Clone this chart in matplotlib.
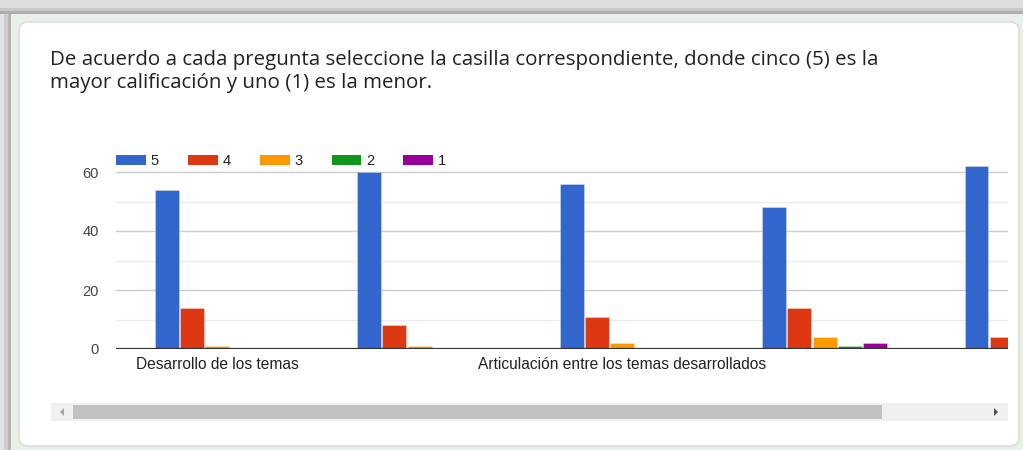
import matplotlib
matplotlib.use("Agg")
import matplotlib.pyplot as plt
import numpy as np
from matplotlib.patches import Rectangle, FancyBboxPatch, Polygon

# ---- data ----
categories = [
    "Desarrollo de los temas",
    "",
    "Articulación entre los temas desarrollados",
    "",
    "",
]
series_names = ["5", "4", "3", "2", "1"]
score_5 = [54, 60, 56, 48, 62]
score_4 = [14, 8, 11, 14, 4]
score_3 = [1, 1, 2, 4, 0]
score_2 = [0, 0, 0, 1, 0]
score_1 = [0, 0, 0, 2, 0]
series_values = [score_5, score_4, score_3, score_2, score_1]
series_colors = ["#3366cc", "#dc3912", "#ff9900", "#109618", "#990099"]
y_ticks = [0, 20, 40, 60]
title_lines = [
    "De acuerdo a cada pregunta seleccione la casilla correspondiente, donde cinco (5) es la",
    "mayor calificación y uno (1) es la menor.",
]

W, H = 1023, 450
fig = plt.figure(figsize=(W / 100, H / 100), dpi=100)
fig.patch.set_facecolor("#e7f1e9")

# ---- page background, shadow and card (pixel coordinates) ----
bg = fig.add_axes([0, 0, 1, 1], zorder=-5)
bg.set_xlim(0, W)
bg.set_ylim(H, 0)
bg.axis("off")
# grey shadow bands along top and left
for y0, y1, c in [(0, 8, "#dedede"), (8, 11, "#c9c9c9"), (11, 14, "#adadad")]:
    bg.add_patch(Rectangle((0, y0), W, y1 - y0, color=c, lw=0))
for x0, x1, c in [(0, 4, "#e2e2e2"), (4, 8, "#cdcdcd"), (8, 11, "#b4b4b4")]:
    bg.add_patch(Rectangle((x0, 14), x1 - x0, H - 14, color=c, lw=0))
# white card
bg.add_patch(FancyBboxPatch((19, 22), 1000, 424,
                            boxstyle="round,pad=0,rounding_size=9",
                            facecolor="white", edgecolor="#d6dcd8", lw=1.0))
# horizontal scrollbar
bg.add_patch(Rectangle((51, 403), 957, 18, color="#f0f0f0", lw=0))
bg.add_patch(Rectangle((73, 405), 809, 14, color="#c1c1c1", lw=0))
bg.add_patch(Polygon([(64, 408), (64, 416), (60, 412)], closed=True, color="#a3a3a3", lw=0))
bg.add_patch(Polygon([(994, 408), (994, 416), (998, 412)], closed=True, color="#505050", lw=0))

# ---- question text ----
fig.text(50 / W, 1 - 65 / H, title_lines[0], fontsize=14.75, family="Open Sans",
         color="#202124", va="baseline", ha="left")
fig.text(50 / W, 1 - 88 / H, title_lines[1], fontsize=14.75, family="Open Sans",
         color="#202124", va="baseline", ha="left")

# ---- chart ----
px_per_unit = 2.95
y_top = 64
ax_left, ax_right = 116, 1008
ax_bottom_px = 349
ax_top_px = ax_bottom_px - y_top * px_per_unit
ax = fig.add_axes([ax_left / W, 1 - ax_bottom_px / H,
                   (ax_right - ax_left) / W, (ax_bottom_px - ax_top_px) / H])
ax.set_facecolor("none")

x = np.arange(len(categories))
n = len(series_values)
stride = 0.1248
width = 0.118
handles = []
for i, (vals, col) in enumerate(zip(series_values, series_colors)):
    offs = (i - (n - 1) / 2) * stride
    ax.bar(x + offs, vals, width, color=col, edgecolor=(1, 1, 1, 0.35),
           linewidth=0.6, zorder=3)
    handles.append(Rectangle((0, 0), 1, 1, facecolor=col, edgecolor="none"))

# gridlines: major every 20, minor every 10
for v in [10, 30, 50]:
    ax.axhline(v, color="#ebebeb", lw=1.0, zorder=1)
for v in [20, 40, 60]:
    ax.axhline(v, color="#cccccc", lw=1.0, zorder=1)
ax.axhline(0, color="#333333", lw=1.6, zorder=4)

for s in ax.spines.values():
    s.set_visible(False)
ax.set_yticks(y_ticks)
ax.set_yticklabels([str(t) for t in y_ticks], family="Liberation Sans",
                   fontsize=10.5, color="#444444")
ax.tick_params(axis="y", length=0, pad=12.5)
ax.set_xticks(x)
ax.set_xticklabels(categories, family="Liberation Sans", fontsize=11.2, color="#222222")
ax.tick_params(axis="x", length=0, pad=6)

# the last category is only partly visible on the right
ax.set_xlim(-0.5, 3.906)
ax.set_ylim(0, y_top)

leg = fig.legend(handles, series_names, ncol=5, loc="lower left",
                 bbox_to_anchor=(116 / W, 1 - 168 / H), bbox_transform=fig.transFigure,
                 frameon=False, borderpad=0, borderaxespad=0,
                 handlelength=2.05, handleheight=0.75, handletextpad=0.34,
                 columnspacing=1.98, prop={"family": "Liberation Sans", "size": 10.5})
for t in leg.get_texts():
    t.set_color("#222222")

fig.savefig("out.png", dpi=100, facecolor=fig.get_facecolor())
